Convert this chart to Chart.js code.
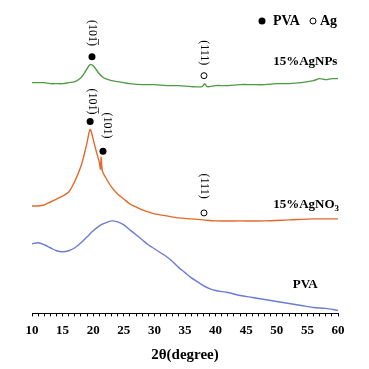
<!DOCTYPE html>
<html>
<head>
<meta charset="utf-8">
<script src="https://cdn.jsdelivr.net/npm/chart.js@4"></script>
<style>
  html, body { margin: 0; padding: 0; background: #fff; }
  #wrap { width: 369px; height: 369px; position: relative; }
</style>
</head>
<body>
<div id="wrap"><canvas id="xrd"></canvas></div>
<script>
// 2θ positions (degrees) and intensities (a.u., offset per trace)
const npAngles = [10, 11, 12, 13, 14, 15, 16, 17, 18, 18.5, 19, 19.5, 20, 20.5, 21, 21.5, 22, 23, 24, 25, 26, 28, 30, 32, 34, 36, 37.8, 38.2, 38.6, 40, 42, 44, 46, 48, 50, 52, 54, 56, 57, 58, 59, 60];
const npCounts = [232, 232, 232, 231, 231, 231, 232, 233, 237, 241, 246, 250, 249, 245, 241, 238, 236, 234, 233, 232, 231, 230, 230, 229, 229, 228, 228, 231, 228, 229, 229, 230, 230, 230, 231, 231, 232, 234, 236, 235, 236, 236];

const no3Angles = [10, 11, 12, 13, 14, 15, 16, 17, 18, 18.5, 19, 19.5, 20, 20.5, 21, 21.2, 21.3, 21.5, 22, 23, 24, 25, 26, 27, 28, 29, 30, 32, 34, 36, 38, 40, 44, 48, 52, 56, 60];
const no3Counts = [108, 108, 109, 112, 115, 118, 122, 133, 148, 159, 172, 185, 175, 163, 152, 145, 157, 143, 137, 127, 120, 115, 110, 107, 104, 102, 100, 98, 96, 95, 94, 93, 93, 93, 94, 95, 95];

const pvaAngles = [10, 11, 12, 13, 14, 15, 16, 17, 18, 19, 20, 21, 22, 23, 24, 25, 26, 27, 28, 29, 30, 31, 32, 33, 34, 35, 36, 37, 38, 39, 40, 42, 44, 46, 48, 50, 52, 54, 56, 58, 60];
const pvaCounts = [70, 71, 69, 66, 63, 62, 63, 66, 71, 77, 83, 88, 91, 93, 92, 89, 84, 79, 74, 69, 65, 61, 57, 52, 46, 41, 36, 32, 28, 25, 23, 21, 18, 16, 14, 12, 10, 8, 6, 5, 3];

// peak markers
const pvaPeakAngles = [19.8, 19.5, 21.6];
const pvaPeakCounts = [258, 193, 163];
const agPeakAngles = [38.1, 38.1];
const agPeakCounts = [239, 101];

// Miller index labels
const hklTexts = ['(101\u0305)', '(111)', '(101\u0305)', '(101)', '(111)'];
const hklAngles = [19.8, 38.1, 19.8, 22.3, 38.1];
const hklCounts = [282, 262, 213, 189, 128];

// trace names
const traceNames = ['15%AgNPs', '15%AgNO', 'PVA'];
const traceAngles = [49.4, 49.4, 52.6];
const traceCounts = [253, 109, 29];

const xTicks = [10, 15, 20, 25, 30, 35, 40, 45, 50, 55, 60];

const serif = "'Liberation Serif', 'DejaVu Serif', serif";

function pts(xs, ys) {
    return xs.map((x, i) => ({ x: x, y: ys[i] }));
}

// Текст на графике: легенда, индексы и подписи кривых
const notes = {
    id: 'notes',
    afterDatasetsDraw(chart) {
        const ctx = chart.ctx;
        const xs = chart.scales.x, ys = chart.scales.y;
        ctx.save();
        ctx.fillStyle = '#000';
        ctx.strokeStyle = '#000';

        // hkl labels, rotated
        ctx.font = '12px ' + serif;
        ctx.textAlign = 'center';
        ctx.textBaseline = 'middle';
        hklTexts.forEach((t, i) => {
            ctx.save();
            ctx.translate(xs.getPixelForValue(hklAngles[i]), ys.getPixelForValue(hklCounts[i]));
            ctx.rotate(Math.PI / 2);
            ctx.fillText(t, 0, 0);
            ctx.restore();
        });

        // trace names
        ctx.textAlign = 'left';
        traceNames.forEach((t, i) => {
            const px = xs.getPixelForValue(traceAngles[i]);
            const py = ys.getPixelForValue(traceCounts[i]);
            ctx.font = 'bold 13px ' + serif;
            ctx.fillText(t, px, py);
            if (i === 1) {
                const w = ctx.measureText(t).width;
                ctx.font = 'bold 9px ' + serif;
                ctx.fillText('3', px + w, py + 4);
            }
        });

        // legend
        const top = 21;
        ctx.beginPath();
        ctx.arc(262, top, 3.5, 0, Math.PI * 2);
        ctx.fill();
        ctx.font = 'bold 14px ' + serif;
        ctx.fillText('PVA', 273, top);
        ctx.beginPath();
        ctx.lineWidth = 1;
        ctx.arc(313, top, 3, 0, Math.PI * 2);
        ctx.stroke();
        ctx.fillText('Ag', 320, top);
        ctx.restore();
    }
};

new Chart(document.getElementById('xrd'), {
    type: 'line',
    data: {
        datasets: [
            { label: '15%AgNPs', data: pts(npAngles, npCounts), borderColor: '#4f9a45', borderWidth: 1.4, pointRadius: 0, tension: 0.3 },
            { label: '15%AgNO3', data: pts(no3Angles, no3Counts), borderColor: '#e2692a', borderWidth: 1.4, pointRadius: 0, tension: 0.3 },
            { label: 'PVA', data: pts(pvaAngles, pvaCounts), borderColor: '#6b7bd8', borderWidth: 1.4, pointRadius: 0, tension: 0.3 },
            { label: 'PVA peaks', data: pts(pvaPeakAngles, pvaPeakCounts), showLine: false, pointRadius: 3.5, pointBackgroundColor: '#000', pointBorderWidth: 0 },
            { label: 'Ag peaks', data: pts(agPeakAngles, agPeakCounts), showLine: false, pointRadius: 3, pointBackgroundColor: '#fff', pointBorderColor: '#000', pointBorderWidth: 1 }
        ]
    },
    options: {
        responsive: true,
        maintainAspectRatio: false,
        animation: false,
        layout: { padding: { left: 32, right: 31, top: 15, bottom: 5 } },
        plugins: {
            legend: { display: false },
            tooltip: { enabled: false }
        },
        scales: {
            x: {
                type: 'linear',
                min: 10,
                max: 60,
                afterBuildTicks: function(axis) {
                    const t = [];
                    for (let v = 10; v <= 60; v++) t.push({ value: v });
                    axis.ticks = t;
                },
                ticks: {
                    autoSkip: false,
                    maxRotation: 0,
                    padding: 6,
                    color: '#000',
                    font: { size: 13, weight: 'bold', family: serif },
                    callback: function(value) { return xTicks.includes(value) ? value : ''; }
                },
                grid: { drawOnChartArea: false, tickLength: 3, color: '#000' },
                border: { color: '#000', width: 1 },
                title: {
                    display: true,
                    text: '2θ(degree)',
                    color: '#000',
                    font: { size: 15, weight: 'bold', family: serif },
                    padding: { top: 2, bottom: 0 }
                }
            },
            y: { display: false, min: 0, max: 300 }
        }
    },
    plugins: [notes]
});
</script>
</body>
</html>
